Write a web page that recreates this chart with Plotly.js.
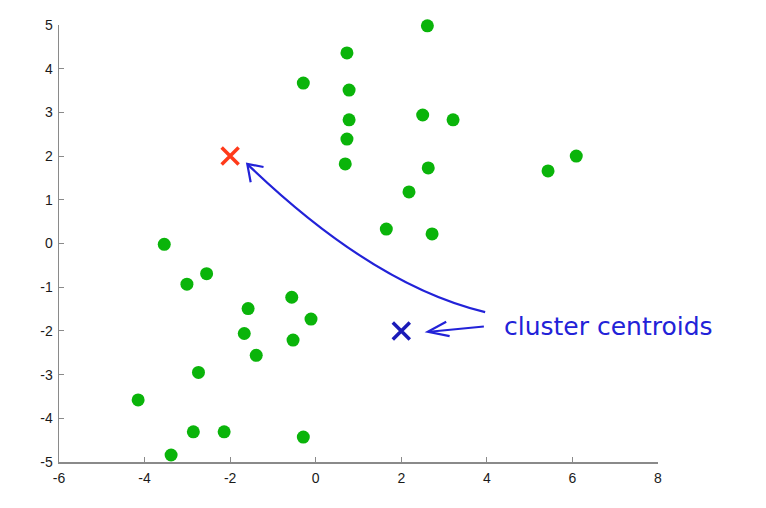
<!DOCTYPE html>
<html>
<head>
<meta charset="utf-8">
<script src="https://cdn.plot.ly/plotly-3.0.1.min.js"></script>
<style>html,body{margin:0;padding:0;background:#fff;}#chart{width:766px;height:508px;}</style>
</head>
<body>
<div id="chart"></div>
<script>
// data points
var pointsX = [2.61, 0.73, -0.29, 0.78, 2.50, 3.21, 0.78, 0.73, 0.69, 2.63, 6.09, 5.43, 2.18, 1.65, 2.72,
               -3.54, -2.55, -3.01, -0.56, -1.58, -0.11, -1.67, -0.53, -1.39, -2.74, -4.15, -2.86, -2.14, -0.29, -3.38];
var pointsY = [4.98, 4.36, 3.67, 3.51, 2.94, 2.83, 2.83, 2.39, 1.82, 1.73, 2.00, 1.66, 1.18, 0.33, 0.22,
               -0.02, -0.69, -0.93, -1.23, -1.49, -1.73, -2.06, -2.21, -2.56, -2.95, -3.58, -4.31, -4.31, -4.43, -4.84];
var centroidRedX = [-2], centroidRedY = [2];
var centroidBlueX = [2], centroidBlueY = [-2];
var xTickVals = [-6, -4, -2, 0, 2, 4, 6, 8];
var xTickText = ['-6', '-4', '-2', '0', '2', '4', '6', '8'];
var yTickVals = [-5, -4, -3, -2, -1, 0, 1, 2, 3, 4, 5];
var yTickText = ['-5', '-4', '-3', '-2', '-1', '0', '1', '2', '3', '4', '5'];
var noteText = 'cluster centroids';

var ink = '#2222d8';
var traces = [
  {x: pointsX, y: pointsY, type: 'scatter', mode: 'markers',
   marker: {color: 'rgb(10,180,10)', size: 13, line: {width: 0}}, cliponaxis: false, hoverinfo: 'skip'},
  {x: centroidRedX, y: centroidRedY, type: 'scatter', mode: 'markers',
   marker: {symbol: 'x-thin', size: 17, line: {color: '#ff3a1a', width: 3.5}}, cliponaxis: false},
  {x: centroidBlueX, y: centroidBlueY, type: 'scatter', mode: 'markers',
   marker: {symbol: 'x-thin', size: 17, line: {color: '#1a1ab8', width: 3.5}}, cliponaxis: false}
];

var axisCommon = {
  showgrid: false, zeroline: false, showline: true, linecolor: '#8a8a8a', linewidth: 1.5,
  ticks: 'inside', ticklen: 5, tickcolor: '#8a8a8a', tickwidth: 1.2,
  tickfont: {family: 'Liberation Sans, Arial, sans-serif', size: 14, color: '#1a1a1a'},
  fixedrange: true
};

var layout = {
  width: 766, height: 508,
  margin: {l: 59, r: 108, t: 25, b: 46},
  paper_bgcolor: '#fff', plot_bgcolor: '#fff',
  showlegend: false,
  xaxis: Object.assign({}, axisCommon, {range: [-6, 8], tickmode: 'array', tickvals: xTickVals, ticktext: xTickText, ticklabelstandoff: 3}),
  yaxis: Object.assign({}, axisCommon, {range: [-5, 5], tickmode: 'array', tickvals: yTickVals, ticktext: yTickText, ticklabelstandoff: 2}),
  shapes: [
    // curved arrow from note to red centroid
    {type: 'path', xref: 'x', yref: 'y', path: 'M 3.96,-1.57 Q 1.35,-0.96 -1.58,1.80',
     line: {color: ink, width: 2.2}},
    {type: 'path', xref: 'x', yref: 'y', path: 'M -1.22,1.75 L -1.60,1.82 L -1.52,1.40',
     line: {color: ink, width: 2.2}},
    // short arrow from note to blue centroid
    {type: 'path', xref: 'x', yref: 'y', path: 'M 3.93,-1.90 L 2.66,-2.02',
     line: {color: ink, width: 2.2}},
    {type: 'path', xref: 'x', yref: 'y', path: 'M 3.05,-1.79 L 2.62,-2.02 L 3.13,-2.12',
     line: {color: ink, width: 2.2}}
  ],
  annotations: [
    {xref: 'x', yref: 'y', x: 6.84, y: -1.9, text: noteText, showarrow: false,
     font: {family: 'DejaVu Sans, sans-serif', size: 25, color: ink}, xanchor: 'center', yanchor: 'middle'}
  ]
};

Plotly.newPlot('chart', traces, layout, {displayModeBar: false, staticPlot: true});
</script>
</body>
</html>
